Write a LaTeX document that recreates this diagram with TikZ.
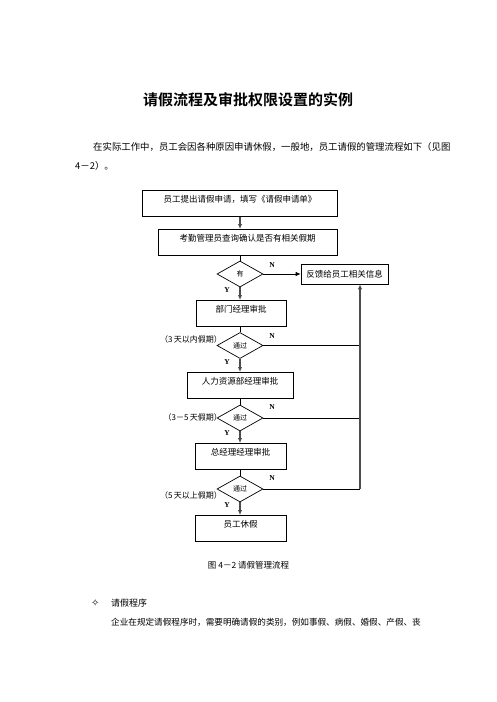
\documentclass[tikz,border=0pt]{standalone}
\usepackage{fontspec}
\setmainfont{Noto Sans CJK SC}[BoldFont={Noto Sans CJK SC Bold}]
\newfontfamily\symfont{DejaVu Sans}
\newfontfamily\latinfont{Liberation Serif}
\usetikzlibrary{arrows.meta,shapes.geometric}

\begin{document}
\begin{tikzpicture}[
  x=1pt, y=-1pt,
  font=\fontsize{8.5}{10}\selectfont,
  box/.style={draw, line width=0.7pt, anchor=north, minimum height=26pt, inner ysep=4pt, text height=8pt, text depth=10pt},
  fbbox/.style={draw, line width=0.7pt, minimum width=87pt, minimum height=20pt, inner sep=0pt},
  dia/.style={diamond, draw, line width=0.7pt, minimum width=46pt, minimum height=26pt, inner sep=0pt, font=\fontsize{7}{8}\selectfont},
  yn/.style={font=\latinfont\bfseries\fontsize{7.5}{8}\selectfont, inner sep=0pt},
  note/.style={anchor=east, inner sep=0pt, font=\fontsize{8}{9}\selectfont},
  body/.style={anchor=west, inner sep=0pt},
  flow/.style={-{Latex[length=5pt,width=4.5pt]}, line width=1.2pt, draw=black!70},
  link/.style={line width=0.7pt},
  feed/.style={-{Latex[length=5pt,width=4.5pt]}, line width=0.7pt}
]
\fill[white] (0,0) rectangle (496,702);
\useasboundingbox (0,0) rectangle (496,702);

% page text
\node[font=\bfseries\fontsize{15}{18}\selectfont] (title) at (248,100) {请假流程及审批权限设置的实例};
\node[body, font=\fontsize{9.4}{11}\selectfont] (para1) at (93,147) {在实际工作中，员工会因各种原因申请休假，一般地，员工请假的管理流程如下（见图};
\node[body, font=\fontsize{9.4}{11}\selectfont] (para2) at (75,166) {4－2）。};

% flow chart
\node[box, minimum width=195pt] (apply) at (240,190) {员工提出请假申请，填写《请假申请单》};
\node[box, minimum width=179pt] (check) at (247.5,229) {考勤管理员查询确认是否有相关假期};
\node[dia] (has) at (240,274) {有};
\node[fbbox] (inform) at (344.5,274) {反馈给员工相关信息};
\node[box, minimum width=90pt] (dept) at (241,300) {部门经理审批};
\node[dia] (pass1) at (240,345.5) {通过};
\node[box, minimum width=106pt] (hr) at (240,372) {人力资源部经理审批};
\node[dia] (pass2) at (240,418) {通过};
\node[box, minimum width=91pt] (gm) at (240.5,443) {总经理经理审批};
\node[dia] (pass3) at (240,489) {通过};
\node[box, minimum width=91pt] (leave) at (240.5,515) {员工休假};
\coordinate (back) at (360,489);

\node[note] (days1) at (222,339) {（3\,天以内假期）};
\node[note] (days2) at (222,417) {（3－5\,天假期）};
\node[note] (days3) at (222,495) {（5\,天以上假期）};

\node[yn] (n0) at (272,265) {N};
\node[yn] (n1) at (272,336) {N};
\node[yn] (n2) at (272,407) {N};
\node[yn] (n3) at (272,478) {N};
\node[yn] (y0) at (227,290) {Y};
\node[yn] (y1) at (227,362) {Y};
\node[yn] (y2) at (227,433) {Y};
\node[yn] (y3) at (227,505) {Y};

\draw[flow] (apply.south) -- (apply.south |- check.north);
\draw[link] (has.north |- check.south) -- (has.north);
\draw[feed] (has.east) -- (inform.west);
\draw[flow] (has.south) -- (has.south |- dept.north);
\draw[link] (pass1.north |- dept.south) -- (pass1.north);
\draw[flow] (pass1.south) -- (pass1.south |- hr.north);
\draw[link] (pass2.north |- hr.south) -- (pass2.north);
\draw[flow] (pass2.south) -- (pass2.south |- gm.north);
\draw[link] (pass3.north |- gm.south) -- (pass3.north);
\draw[flow] (pass3.south) -- (pass3.south |- leave.north);

\draw[link] (pass1.east) -- (back |- pass1.east);
\draw[link] (pass2.east) -- (back |- pass2.east);
\draw[link] (pass3.east) -- (back);
\draw[flow] (back) -- (back |- inform.south);

\node (caption) at (248.5,565) {图 4－2 请假管理流程};

\node[body, font=\symfont\fontsize{10}{12}\selectfont] (bullet) at (91,603) {✧};
\node[body, font=\fontsize{9}{11}\selectfont] (head) at (111,603) {请假程序};
\node[body, font=\fontsize{8.6}{11}\selectfont] (para3) at (111,622) {企业在规定请假程序时，需要明确请假的类别，例如事假、病假、婚假、产假、丧};
\end{tikzpicture}
\end{document}
